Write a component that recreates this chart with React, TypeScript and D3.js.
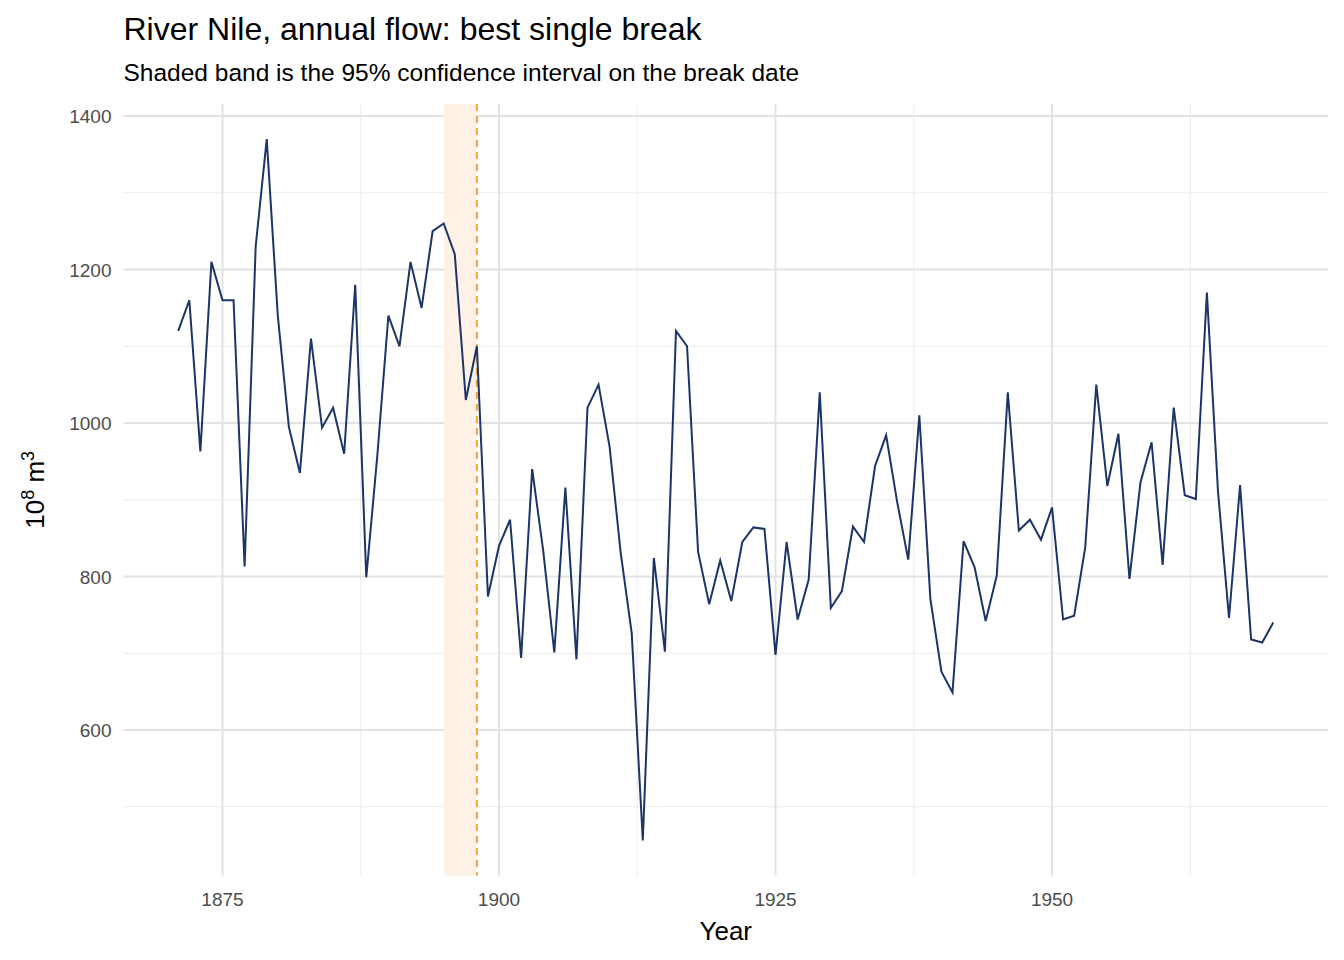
import React from 'react';
import * as d3 from 'd3';

const startYear = 1871;
const flow = [1120, 1160, 963, 1210, 1160, 1160, 813, 1230, 1370, 1140, 995, 935, 1110, 994, 1020, 960, 1180, 799, 958, 1140,
  1100, 1210, 1150, 1250, 1260, 1220, 1030, 1100, 774, 840, 874, 694, 940, 833, 701, 916, 692, 1020, 1050, 969,
  831, 726, 456, 824, 702, 1120, 1100, 832, 764, 821, 768, 845, 864, 862, 698, 845, 744, 796, 1040, 759,
  781, 865, 845, 944, 984, 897, 822, 1010, 771, 676, 649, 846, 812, 742, 801, 1040, 860, 874, 848, 890,
  744, 749, 838, 1050, 918, 986, 797, 923, 975, 815, 1020, 906, 901, 1170, 912, 746, 919, 718, 714, 740];
const breakYear = 1898;
const ciYears = [1895, 1898];
const xTicks = [1875, 1900, 1925, 1950];
const xMinor = [1887.5, 1912.5, 1937.5, 1962.5];
const yTicks = [600, 800, 1000, 1200, 1400];
const yMinor = [500, 700, 900, 1100, 1300];

const W = 1344, H = 960;
const left = 123.5, right = 1328, top = 104, bottom = 875.6;
const font = 'Helvetica, Arial, "Liberation Sans", sans-serif';

export default function App() {
  const data = flow.map((v, i) => ({ year: startYear + i, v }));
  const yr = [startYear, startYear + flow.length - 1];
  const xe = (yr[1] - yr[0]) * 0.05;
  const x = d3.scaleLinear().domain([yr[0] - xe, yr[1] + xe]).range([left, right]);
  const ext = d3.extent(flow) as [number, number];
  const ye = (ext[1] - ext[0]) * 0.05;
  const y = d3.scaleLinear().domain([ext[0] - ye, ext[1] + ye]).range([bottom, top]);
  const line = d3.line<{ year: number; v: number }>().x(d => x(d.year)).y(d => y(d.v));

  return (
    <svg width={W} height={H} style={{ position: 'absolute', left: 0, top: 0, background: '#fff' }} fontFamily={font}>
      {xMinor.map(t => <line key={'xm' + t} x1={x(t)} x2={x(t)} y1={top} y2={bottom} stroke="#ebebeb" strokeWidth={1} />)}
      {yMinor.map(t => <line key={'ym' + t} x1={left} x2={right} y1={y(t)} y2={y(t)} stroke="#ebebeb" strokeWidth={1} />)}
      {xTicks.map(t => <line key={'x' + t} x1={x(t)} x2={x(t)} y1={top} y2={bottom} stroke="#e3e3e3" strokeWidth={2} />)}
      {yTicks.map(t => <line key={'y' + t} x1={left} x2={right} y1={y(t)} y2={y(t)} stroke="#e3e3e3" strokeWidth={2} />)}
      <rect x={x(ciYears[0])} y={top} width={x(ciYears[1]) - x(ciYears[0])} height={bottom - top} fill="#fdf2e5" />
      <line x1={x(breakYear)} x2={x(breakYear)} y1={top} y2={bottom} stroke="#f0a63a" strokeWidth={2} strokeDasharray="7,5" />
      <path d={line(data) || ''} fill="none" stroke="#1c3468" strokeWidth={2} />
      {xTicks.map(t => <text key={'xl' + t} x={x(t)} y={bottom + 30} textAnchor="middle" fontSize={19} fill="#4d4d4d">{t}</text>)}
      {yTicks.map(t => <text key={'yl' + t} x={left - 12} y={y(t) + 7} textAnchor="end" fontSize={19} fill="#4d4d4d">{t}</text>)}
      <text x={(left + right) / 2} y={940} textAnchor="middle" fontSize={26} fill="#000">Year</text>
      <text transform={`translate(44,${(top + bottom) / 2}) rotate(-90)`} textAnchor="middle" fontSize={26} fill="#000">
        10<tspan dy={-10} fontSize={18}>8</tspan><tspan dy={10}> m</tspan><tspan dy={-10} fontSize={18}>3</tspan>
      </text>
      <text x={left} y={40} fontSize={32} fill="#000">River Nile, annual flow: best single break</text>
      <text x={left} y={81} fontSize={24.5} fill="#000">Shaded band is the 95% confidence interval on the break date</text>
    </svg>
  );
}
